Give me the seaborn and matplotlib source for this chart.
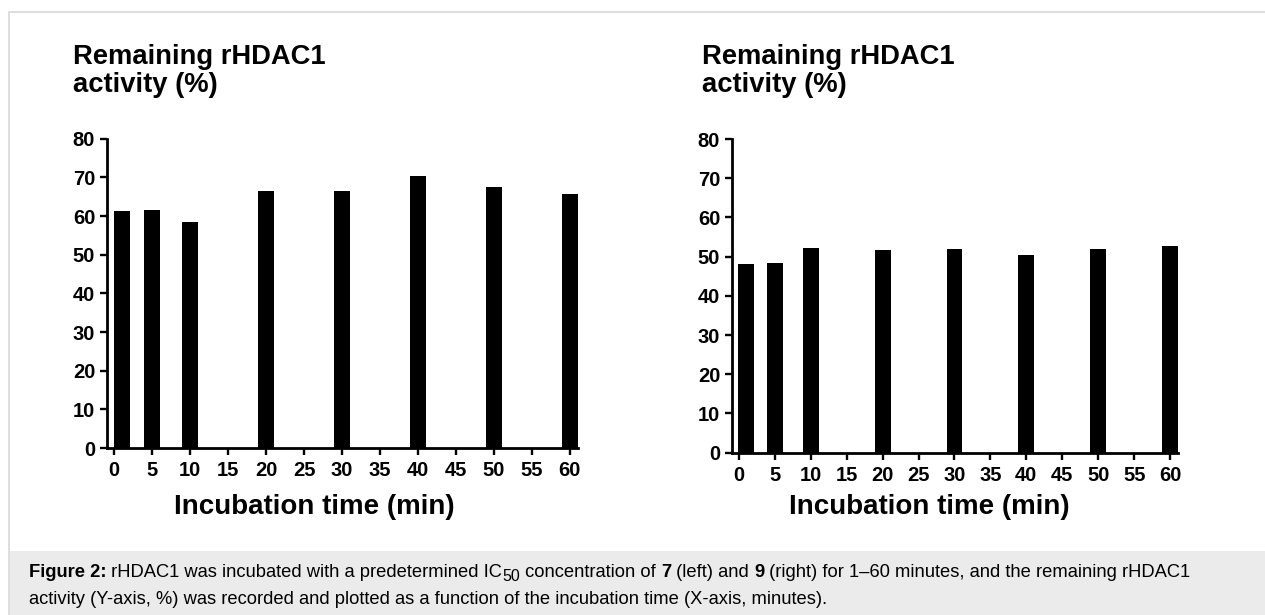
import numpy as np
import pandas as pd
import matplotlib
matplotlib.use("Agg")
import matplotlib.pyplot as plt
from matplotlib.patches import Rectangle
import seaborn as sns

# data
times = [1, 5, 10, 20, 30, 40, 50, 60]
activity_7 = [61.4, 61.7, 58.5, 66.5, 66.5, 70.4, 67.5, 65.7]
activity_9 = [48.1, 48.3, 52.3, 51.8, 52.0, 50.4, 52.0, 52.6]
x_ticks = list(range(0, 61, 5))
y_ticks = list(range(0, 81, 10))

sns.set_style("ticks")
plt.rcParams['font.family'] = ['Liberation Sans', 'DejaVu Sans']
plt.rcParams['text.color'] = 'black'
plt.rcParams['xtick.color'] = 'black'
plt.rcParams['ytick.color'] = 'black'
plt.rcParams['axes.edgecolor'] = 'black'

fig = plt.figure(figsize=(12.65, 6.15), dpi=100)

# frame and caption box
fig.patches.append(Rectangle((9 / 1265, -0.01), 1.0, 0.9805 + 0.01, transform=fig.transFigure,
                             facecolor='white', edgecolor='#d8d8d8', linewidth=1.2, zorder=-10))
fig.patches.append(Rectangle((9.6 / 1265, 0), 1.0, 1 - 551 / 615, transform=fig.transFigure,
                             facecolor='#ebebeb', edgecolor='none', zorder=-9))

ax1 = fig.add_axes([106.7 / 1265, 1 - 448 / 615, (578 - 106.7) / 1265, (448 - 138.8) / 615])
ax2 = fig.add_axes([731.7 / 1265, 1 - 452.7 / 615, (1178 - 731.7) / 1265, (452.7 - 139) / 615])

for ax, vals, bar_w in [(ax1, activity_7, 2.1), (ax2, activity_9, 2.2)]:
    df = pd.DataFrame({'time': times, 'activity': vals})
    sns.barplot(data=df, x='time', y='activity', native_scale=True, color='black',
                width=bar_w / 4, linewidth=0, saturation=1, ax=ax, errorbar=None)
    ax.set_xlim(-1, 61.1)
    ax.set_ylim(0, 80)
    ax.set_xticks(x_ticks)
    ax.set_yticks(y_ticks)
    ax.set_xticklabels([str(t) for t in x_ticks], fontsize=14.5, fontweight='bold')
    ax.set_yticklabels([str(t) for t in y_ticks], fontsize=14.5, fontweight='bold')
    ax.set_xlabel('')
    ax.set_ylabel('')
    ax.patch.set_alpha(0)
    sns.despine(ax=ax)
    for s in ['left', 'bottom']:
        ax.spines[s].set_linewidth(2.0)
    ax.tick_params(axis='both', width=1.7, length=4.8, color='black', pad=3.5)
    ax.tick_params(axis='x', pad=4.5)

for tx in [73, 702]:
    fig.text(tx / 1265, 1 - 91.5 / 615, 'Remaining rHDAC1\nactivity (%)', fontsize=19.7,
             fontweight='bold', ha='left', va='baseline', linespacing=1.1)
fig.text(314 / 1265, 1 - 507 / 615, 'Incubation time (min)', fontsize=20,
         fontweight='bold', ha='center', va='center')
fig.text(929 / 1265, 1 - 507 / 615, 'Incubation time (min)', fontsize=20,
         fontweight='bold', ha='center', va='center')

# caption, first line built from pieces (bold parts and subscript)
cap_size = 13.25
pieces = [
    ('Figure 2:', 'bold', cap_size, 0),
    (' rHDAC1 was incubated with a predetermined IC', 'normal', cap_size, 0),
    ('50', 'normal', 11.5, -4),
    (' concentration of ', 'normal', cap_size, 0),
    ('7', 'bold', cap_size, 0),
    (' (left) and ', 'normal', cap_size, 0),
    ('9', 'bold', cap_size, 0),
    (' (right) for 1–60 minutes, and the remaining rHDAC1', 'normal', cap_size, 0),
]
fig.canvas.draw()
renderer = fig.canvas.get_renderer()
x_px = 29
base_px = 615 - 577
for txt, weight, size, dy in pieces:
    t = fig.text(x_px / 1265, (base_px + dy) / 615, txt, fontsize=size, fontweight=weight,
                 ha='left', va='baseline')
    bb = t.get_window_extent(renderer)
    x_px = bb.x1

line2 = 'activity (Y-axis, %) was recorded and plotted as a function of the incubation time (X-axis, minutes).'
fig.text(29 / 1265, 1 - 604 / 615, line2, fontsize=cap_size, ha='left', va='baseline')

fig.savefig('out.png', dpi=100)
